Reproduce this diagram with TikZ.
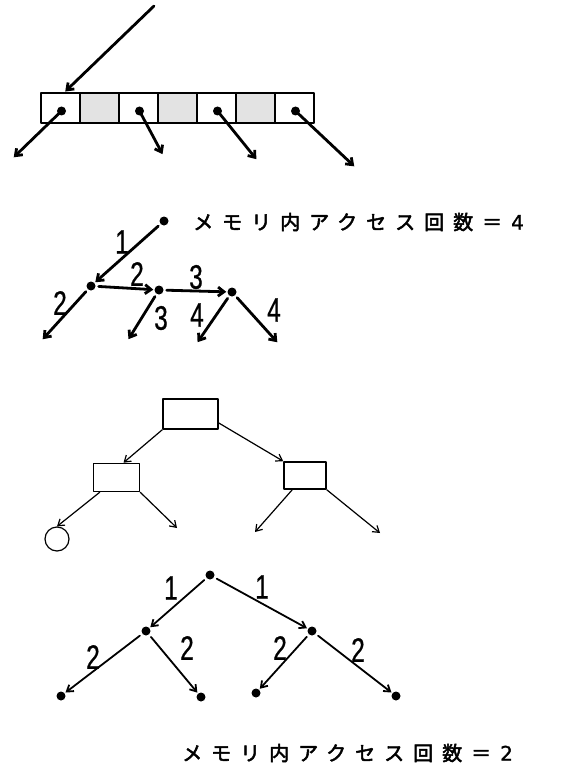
\documentclass[tikz,border=0pt]{standalone}
\usepackage{fontspec}
\newfontfamily\digitfont[FakeStretch=0.72, FakeBold=0.6]{Liberation Sans}
\newfontfamily\jpfont[LetterSpace=45, FakeBold=2.5]{Noto Sans CJK JP}
\newfontfamily\countdigit[FakeBold=1.5]{DejaVu Sans}
\usetikzlibrary{arrows.meta}
\tikzset{
  thickedge/.style={line width=2.8pt, shorten <=3pt, shorten >=1pt, -{Straight Barb[length=6pt,width=9pt]}},
  midedge/.style={line width=1.8pt, shorten <=3pt, shorten >=1pt, -{Straight Barb[length=6pt,width=8pt]}},
  thinedge/.style={line width=1.2pt, -{Straight Barb[length=6pt,width=8pt]}},
  dot/.style={circle, fill, inner sep=0pt, minimum size=9pt},
  num/.style={font=\digitfont\fontsize{34}{34}\selectfont, inner sep=0pt},
  cell/.style={draw, line width=1.6pt, minimum width=39pt, minimum height=30pt, inner sep=0pt},
  tbox/.style={draw, line width=1.6pt, minimum width=46pt, minimum height=28pt, inner sep=0pt},
  count/.style={font=\jpfont\fontsize{20}{20}\selectfont, anchor=west, inner sep=0pt}
}
\begin{document}
\begin{tikzpicture}[x=1pt, y=-1pt, line cap=round, line join=round]
  \useasboundingbox (0,0) rectangle (574,765);

  % array of keys and pointers
  \foreach \i in {1,3,5} {
    \fill[gray!22] ({60.5+\i*39-19.5}, 93) rectangle ({60.5+\i*39+19.5}, 123);
  }
  \foreach \i in {0,...,6} {
    \node[cell] (c\i) at ({60.5+\i*39}, 108) {};
  }
  \coordinate (in) at (154,6);
  \draw[thickedge, shorten <=0pt] (in) -- ([xshift=4pt]c0.north);
  \foreach \i/\x/\y in {0/13/158, 2/163/155, 4/257/160, 6/355/167} {
    \node[dot] (p\i) at ([xshift=1pt,yshift=-3pt]c\i.center) {};
    \coordinate (o\i) at (\x,\y);
    \draw[thickedge, shorten <=0pt] (p\i.center) -- (o\i);
  }

  % search path, count 4
  \node[dot] (a) at (164,221) {};
  \node[count] (txt4) at (193,222) {メモリ内アクセス回数＝\hspace{9pt}{\countdigit 4}};
  \node[dot] (b) at (91,286) {};
  \node[dot] (c) at (159,290) {};
  \node[dot] (d) at (232,292) {};
  \coordinate (e1) at (42,340);
  \coordinate (e2) at (128,340);
  \coordinate (e3) at (197,343);
  \coordinate (e4) at (278,343);
  \draw[thickedge] (a) -- (b);
  \draw[thickedge] (b) -- (c);
  \draw[thickedge] (c) -- (d);
  \draw[thickedge] (b) -- (e1);
  \draw[thickedge] (c) -- (e2);
  \draw[thickedge] (d) -- (e3);
  \draw[thickedge] (d) -- (e4);
  \node[num] at (122,242) {1};
  \node[num] at (137,274) {2};
  \node[num] at (196,277) {3};
  \node[num] at (60,303) {2};
  \node[num] at (161,318) {3};
  \node[num] at (197,315) {4};
  \node[num] at (274,310) {4};

  % tree of boxes
  \node[tbox, minimum width=55pt, minimum height=30pt] (root) at (190.5,414) {};
  \node[tbox] (lbox) at (116.5,477.5) {};
  \node[tbox, minimum width=42pt, minimum height=27pt] (rbox) at (305,475.5) {};
  \node[draw, circle, line width=1.2pt, minimum size=24pt, inner sep=0pt] (leaf) at (57,539) {};
  \coordinate (f1) at (177,528);
  \coordinate (f2) at (255,532);
  \coordinate (f3) at (380,533);
  \draw[thinedge] (root.south west) -- ([xshift=7pt]lbox.north);
  \draw[thinedge] ([yshift=-9pt]root.east) -- (rbox.north west);
  \draw[thinedge] ([xshift=7pt]lbox.south west) -- (leaf.north);
  \draw[thinedge] (lbox.south east) -- (f1);
  \draw[thinedge] ([xshift=9pt]rbox.south west) -- (f2);
  \draw[thinedge] (rbox.south east) -- (f3);

  % search path, count 2
  \node[dot] (r) at (210,575) {};
  \node[dot] (m) at (146,631) {};
  \node[dot] (n) at (312,631) {};
  \node[dot] (q1) at (61,696) {};
  \node[dot] (q2) at (201,697) {};
  \node[dot] (q3) at (256,693) {};
  \node[dot] (q4) at (396,696) {};
  \draw[midedge] (r) -- (m);
  \draw[midedge] (r) -- (n);
  \draw[midedge] (m) -- (q1);
  \draw[midedge] (m) -- (q2);
  \draw[midedge] (n) -- (q3);
  \draw[midedge] (n) -- (q4);
  \node[num] at (171,588) {1};
  \node[num] at (262,587) {1};
  \node[num] at (93,657) {2};
  \node[num] at (187,648) {2};
  \node[num] at (280,648) {2};
  \node[num] at (358,650) {2};
  \node[count] (txt2) at (182,753) {メモリ内アクセス回数＝\hspace{9pt}{\countdigit 2}};
\end{tikzpicture}
\end{document}
